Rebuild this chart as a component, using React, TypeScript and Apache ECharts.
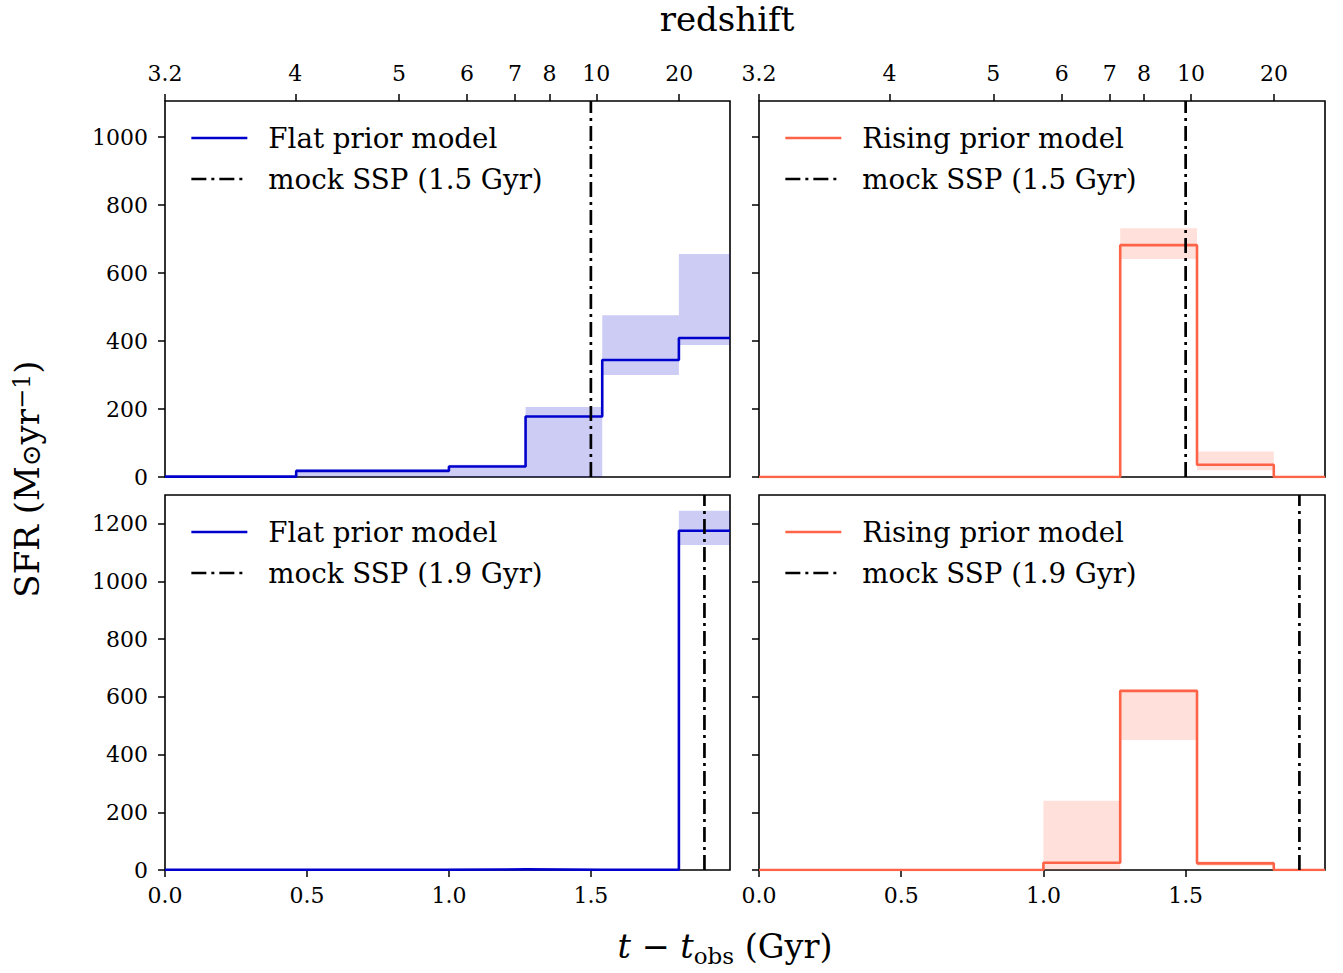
import React, { useEffect, useRef } from "react";
import * as echarts from "echarts";

// Lookback-time bin edges (Gyr, measured from t_obs) shared by all panels
const BIN_EDGES = [0, 0.462, 1.0, 1.27, 1.54, 1.81, 1.99];
const X_MAX = 1.99;

// Redshift ticks on the upper axis and their lookback times (Gyr)
const REDSHIFT_LABELS = ["3.2", "4", "5", "6", "7", "8", "10", "20"];
const REDSHIFT_POS = [0, 0.459, 0.824, 1.064, 1.233, 1.354, 1.519, 1.811];

const TIME_TICKS = [0, 0.5, 1.0, 1.5];
const Y_TICKS_TOP = [0, 200, 400, 600, 800, 1000];
const Y_TICKS_BOTTOM = [0, 200, 400, 600, 800, 1000, 1200];
const Y_MAX_TOP = 1106;
const Y_MAX_BOTTOM = 1300;

// Mock SSP ages (Gyr)
const SSP_AGE_TOP = 1.5;
const SSP_AGE_BOTTOM = 1.9;

// SFR per bin (Msun/yr): median and 16-84% range
const FLAT_15_SFR = [1, 18, 31, 178, 344, 409];
const FLAT_15_LO = [0, 0, 0, 0, 300, 388];
const FLAT_15_HI = [3, 22, 36, 206, 476, 656];

const RISING_15_SFR = [0, 0, 0, 682, 36, 0];
const RISING_15_LO = [0, 0, 0, 641, 20, 0];
const RISING_15_HI = [0, 0, 0, 732, 75, 0];

const FLAT_19_SFR = [1, 1, 2, 1, 1, 1176];
const FLAT_19_LO = [0, 0, 0, 0, 0, 1127];
const FLAT_19_HI = [2, 3, 5, 3, 3, 1245];

const RISING_19_SFR = [0, 0, 25, 621, 23, 0];
const RISING_19_LO = [0, 0, 0, 451, 15, 0];
const RISING_19_HI = [0, 0, 240, 625, 30, 0];

const FONT = "DejaVu Serif";
const BLUE = "#0000cd";
const TOMATO = "#ff6347";
const BLUE_BAND = "rgba(0,0,205,0.2)";
const TOMATO_BAND = "rgba(255,99,71,0.2)";
const DASH_DOT = [15, 5, 3, 5];
const LINE_W = 2.7;

const FLAT_NAME = "Flat prior model";
const RISING_NAME = "Rising prior model";
const SSP_TOP_NAME = "mock SSP (1.5 Gyr)";
const SSP_BOTTOM_NAME = "mock SSP (1.9 Gyr)";

const GRIDS = [
  { left: 165, top: 101, width: 565, height: 376 },
  { left: 759, top: 101, width: 566, height: 376 },
  { left: 165, top: 495, width: 565, height: 375 },
  { left: 759, top: 495, width: 566, height: 375 },
];

function stepPoints(values: number[]) {
  const pts = values.map((v, i) => [BIN_EDGES[i], v]);
  pts.push([BIN_EDGES[BIN_EDGES.length - 1], values[values.length - 1]]);
  return pts;
}

function bandData(lo: number[], hi: number[]) {
  const out: number[][] = [];
  lo.forEach((l, i) => {
    if (hi[i] > l) out.push([BIN_EDGES[i], BIN_EDGES[i + 1], l, hi[i]]);
  });
  return out;
}

function panelSeries(
  idx: number,
  name: string,
  color: string,
  band: string,
  sfr: number[],
  lo: number[],
  hi: number[],
  sspName: string,
  sspAge: number,
  yMax: number
) {
  return [
    {
      type: "custom",
      xAxisIndex: idx,
      yAxisIndex: idx,
      clip: true,
      silent: true,
      z: 1,
      encode: { x: [0, 1], y: [2, 3] },
      data: bandData(lo, hi),
      renderItem: (params: any, api: any) => {
        const p0 = api.coord([api.value(0), api.value(3)]);
        const p1 = api.coord([api.value(1), api.value(2)]);
        return {
          type: "rect",
          shape: { x: p0[0], y: p0[1], width: p1[0] - p0[0], height: p1[1] - p0[1] },
          style: { fill: band },
        };
      },
    },
    {
      type: "line",
      name,
      xAxisIndex: idx,
      yAxisIndex: idx,
      step: "end",
      symbol: "none",
      z: 3,
      lineStyle: { color, width: 2.6 },
      itemStyle: { color },
      data: stepPoints(sfr),
    },
    {
      type: "line",
      name: sspName,
      xAxisIndex: idx,
      yAxisIndex: idx,
      symbol: "none",
      z: 4,
      lineStyle: { color: "#000", width: LINE_W, type: DASH_DOT },
      itemStyle: { color: "#000" },
      data: [
        [sspAge, 0],
        [sspAge, yMax],
      ],
    },
  ];
}

export default function App() {
  const ref = useRef<HTMLDivElement>(null);

  useEffect(() => {
    if (!ref.current) return;
    const chart = echarts.init(ref.current, null, { renderer: "svg" });

    const tickLabel = { fontFamily: FONT, fontSize: 22, color: "#000" };
    const tick = { show: true, inside: false, length: 7, lineStyle: { color: "#000", width: 1.5 } };

    const timeAxis = (gridIndex: number, labelled: boolean) => ({
      type: "value",
      gridIndex,
      position: "bottom",
      min: 0,
      max: X_MAX,
      splitLine: { show: false },
      axisLine: { show: false },
      axisTick: labelled ? { ...tick, customValues: TIME_TICKS } : { show: false },
      axisLabel: labelled
        ? {
            ...tickLabel,
            margin: 14,
            customValues: TIME_TICKS,
            formatter: (v: number) => v.toFixed(1),
          }
        : { show: false },
    });

    const redshiftAxis = (gridIndex: number) => ({
      type: "value",
      gridIndex,
      position: "top",
      min: 0,
      max: X_MAX,
      splitLine: { show: false },
      axisLine: { show: false },
      axisTick: { ...tick, customValues: REDSHIFT_POS },
      axisLabel: {
        ...tickLabel,
        margin: 17,
        customValues: REDSHIFT_POS,
        formatter: (v: number) => {
          const i = REDSHIFT_POS.findIndex((p) => Math.abs(p - v) < 1e-6);
          return i >= 0 ? REDSHIFT_LABELS[i] : "";
        },
      },
    });

    const sfrAxis = (gridIndex: number, ticks: number[], max: number, labelled: boolean) => ({
      type: "value",
      gridIndex,
      min: 0,
      max,
      splitLine: { show: false },
      axisLine: { show: false },
      axisTick: { ...tick, customValues: ticks },
      axisLabel: labelled
        ? { ...tickLabel, margin: 17, customValues: ticks, formatter: (v: number) => String(v) }
        : { show: false },
    });

    const legend = (left: number, top: number, names: string[]) => ({
      orient: "vertical",
      left,
      top,
      itemWidth: 56,
      itemHeight: 14,
      itemGap: 11,
      padding: 0,
      selectedMode: false,
      data: names,
      itemStyle: { color: "rgba(0,0,0,0)", borderWidth: 0, opacity: 0 },
      lineStyle: { width: LINE_W },
      textStyle: {
        fontFamily: FONT,
        fontSize: 27.7,
        color: "#000",
        lineHeight: 30,
        padding: [0, 0, 0, 16],
      },
    });

    const option: any = {
      animation: false,
      backgroundColor: "#fff",
      grid: GRIDS.map((g) => ({
        ...g,
        show: true,
        borderColor: "#000",
        borderWidth: 1.6,
        backgroundColor: "transparent",
        containLabel: false,
      })),
      xAxis: [
        timeAxis(0, false),
        timeAxis(1, false),
        timeAxis(2, true),
        timeAxis(3, true),
        redshiftAxis(0),
        redshiftAxis(1),
      ],
      yAxis: [
        sfrAxis(0, Y_TICKS_TOP, Y_MAX_TOP, true),
        sfrAxis(1, Y_TICKS_TOP, Y_MAX_TOP, false),
        sfrAxis(2, Y_TICKS_BOTTOM, Y_MAX_BOTTOM, true),
        sfrAxis(3, Y_TICKS_BOTTOM, Y_MAX_BOTTOM, false),
      ],
      legend: [
        legend(190, 123, [FLAT_NAME, SSP_TOP_NAME]),
        legend(784, 123, [RISING_NAME, SSP_TOP_NAME]),
        legend(190, 517, [FLAT_NAME, SSP_BOTTOM_NAME]),
        legend(784, 517, [RISING_NAME, SSP_BOTTOM_NAME]),
      ],
      series: [
        ...panelSeries(0, FLAT_NAME, BLUE, BLUE_BAND, FLAT_15_SFR, FLAT_15_LO, FLAT_15_HI, SSP_TOP_NAME, SSP_AGE_TOP, Y_MAX_TOP),
        ...panelSeries(1, RISING_NAME, TOMATO, TOMATO_BAND, RISING_15_SFR, RISING_15_LO, RISING_15_HI, SSP_TOP_NAME, SSP_AGE_TOP, Y_MAX_TOP),
        ...panelSeries(2, FLAT_NAME, BLUE, BLUE_BAND, FLAT_19_SFR, FLAT_19_LO, FLAT_19_HI, SSP_BOTTOM_NAME, SSP_AGE_BOTTOM, Y_MAX_BOTTOM),
        ...panelSeries(3, RISING_NAME, TOMATO, TOMATO_BAND, RISING_19_SFR, RISING_19_LO, RISING_19_HI, SSP_BOTTOM_NAME, SSP_AGE_BOTTOM, Y_MAX_BOTTOM),
      ],
      graphic: [
        {
          type: "text",
          x: 727,
          y: 2,
          style: {
            text: "redshift",
            fontFamily: FONT,
            fontSize: 34,
            lineHeight: 34,
            fill: "#000",
            align: "center",
            verticalAlign: "top",
          },
        },
        {
          type: "text",
          x: 725,
          y: 946,
          style: {
            text: "{it|t} − {it|t}{sub|obs} (Gyr)",
            fontFamily: FONT,
            fontSize: 33.5,
            fill: "#000",
            align: "center",
            verticalAlign: "middle",
            rich: {
              it: { fontFamily: FONT, fontStyle: "italic", fontSize: 33.5, lineHeight: 42 },
              sub: { fontFamily: FONT, fontSize: 23, lineHeight: 23, verticalAlign: "bottom" },
            },
          },
        },
        {
          type: "text",
          x: 27,
          y: 479,
          rotation: Math.PI / 2,
          style: {
            text: "SFR (M{sub|⊙}yr{sup|−1})",
            fontFamily: FONT,
            fontSize: 34,
            fill: "#000",
            align: "center",
            verticalAlign: "middle",
            rich: {
              sub: { fontFamily: FONT, fontSize: 26, lineHeight: 26, verticalAlign: "bottom" },
              sup: { fontFamily: FONT, fontSize: 24, lineHeight: 24, verticalAlign: "top" },
            },
          },
        },
      ],
    };

    chart.setOption(option);
    return () => chart.dispose();
  }, []);

  return (
    <div
      ref={ref}
      style={{ position: "fixed", left: 0, top: 0, width: 1343, height: 973, background: "#fff" }}
    />
  );
}
